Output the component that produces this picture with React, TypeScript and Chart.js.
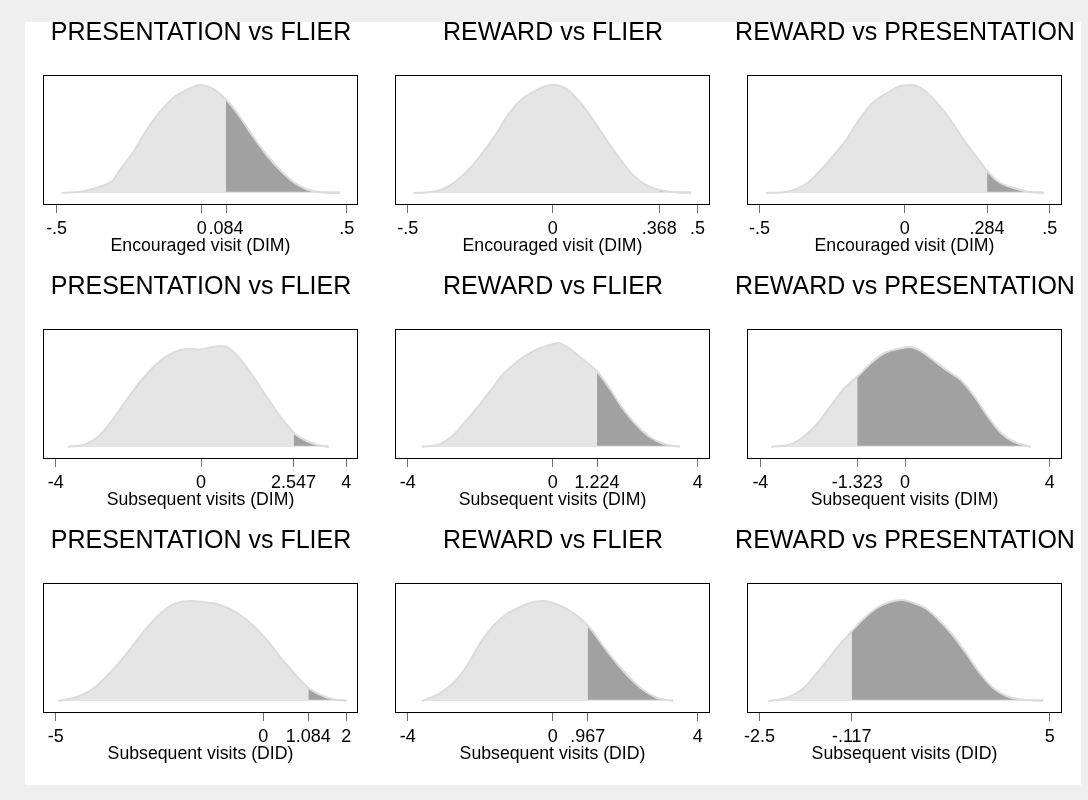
import React, { useEffect, useRef } from "react";
import { Chart, registerables } from "chart.js";

Chart.register(...registerables);

// ---------- panel texts ----------
const panelTitles = [
  "PRESENTATION vs FLIER", "REWARD vs FLIER", "REWARD vs PRESENTATION",
  "PRESENTATION vs FLIER", "REWARD vs FLIER", "REWARD vs PRESENTATION",
  "PRESENTATION vs FLIER", "REWARD vs FLIER", "REWARD vs PRESENTATION",
];
const axisTitles = [
  "Encouraged visit (DIM)", "Encouraged visit (DIM)", "Encouraged visit (DIM)",
  "Subsequent visits (DIM)", "Subsequent visits (DIM)", "Subsequent visits (DIM)",
  "Subsequent visits (DID)", "Subsequent visits (DID)", "Subsequent visits (DID)",
];

// observed statistic (shaded tail starts here)
const observed = [0.084, 0.368, 0.284, 2.547, 1.224, -1.323, 1.084, 0.967, -0.117];

// x-axis ticks
const tickValues = [
  [-0.5, 0, 0.084, 0.5], [-0.5, 0, 0.368, 0.5], [-0.5, 0, 0.284, 0.5],
  [-4, 0, 2.547, 4], [-4, 0, 1.224, 4], [-4, -1.323, 0, 4],
  [-5, 0, 1.084, 2], [-4, 0, 0.967, 4], [-2.5, -0.117, 5],
];
const tickLabels = [
  ["-.5", "0", ".084", ".5"], ["-.5", "0", ".368", ".5"], ["-.5", "0", ".284", ".5"],
  ["-4", "0", "2.547", "4"], ["-4", "0", "1.224", "4"], ["-4", "-1.323", "0", "4"],
  ["-5", "0", "1.084", "2"], ["-4", "0", ".967", "4"], ["-2.5", "-.117", "5"],
];
const xMin = [-0.547, -0.544, -0.543, -4.35, -4.35, -4.37, -5.31, -4.35, -2.825];
const xMax = [0.539, 0.543, 0.542, 4.32, 4.34, 4.34, 2.28, 4.34, 5.317];

// ---------- densities (relative height) ----------
const p1X = [-0.483, -0.408, -0.351, -0.305, -0.282, -0.236, -0.19, -0.144, -0.098, -0.052, -0.006, 0.04, 0.086, 0.132, 0.178, 0.224, 0.27, 0.316, 0.362, 0.408, 0.477];
const p1Y = [0, 0.017, 0.063, 0.13, 0.23, 0.41, 0.63, 0.81, 0.95, 1.03, 1.08, 1.04, 0.93, 0.76, 0.56, 0.38, 0.23, 0.11, 0.037, 0.007, 0];

const p2X = [-0.48, -0.399, -0.342, -0.285, -0.239, -0.193, -0.147, -0.101, -0.055, -0.021, 0.008, 0.048, 0.094, 0.14, 0.186, 0.232, 0.277, 0.323, 0.369, 0.415, 0.478];
const p2Y = [0, 0.02, 0.1, 0.25, 0.41, 0.6, 0.81, 0.95, 1.03, 1.07, 1.08, 1.04, 0.91, 0.73, 0.53, 0.34, 0.18, 0.08, 0.03, 0.01, 0];

const p3X = [-0.478, -0.404, -0.335, -0.289, -0.243, -0.197, -0.151, -0.106, -0.06, -0.014, 0.026, 0.066, 0.112, 0.158, 0.204, 0.25, 0.29, 0.33, 0.376, 0.422, 0.479];
const p3Y = [0, 0.013, 0.1, 0.23, 0.38, 0.55, 0.76, 0.91, 1.0, 1.07, 1.08, 1.03, 0.9, 0.73, 0.53, 0.35, 0.2, 0.1, 0.05, 0.013, 0];

const p4X = [-3.66, -3.15, -2.78, -2.42, -2.05, -1.68, -1.31, -0.94, -0.58, -0.3, -0.03, 0.25, 0.52, 0.71, 0.98, 1.35, 1.72, 2.09, 2.36, 2.59, 2.91, 3.19, 3.51];
const p4Y = [0, 0.03, 0.12, 0.28, 0.47, 0.65, 0.8, 0.91, 0.97, 0.98, 0.975, 0.995, 1.01, 1.0, 0.92, 0.75, 0.55, 0.35, 0.22, 0.13, 0.06, 0.023, 0];

const p5X = [-3.61, -3.1, -2.74, -2.37, -2.0, -1.64, -1.36, -1.09, -0.72, -0.35, -0.07, 0.15, 0.48, 0.75, 1.03, 1.26, 1.58, 1.94, 2.31, 2.68, 3.05, 3.51];
const p5Y = [0, 0.03, 0.12, 0.27, 0.43, 0.6, 0.73, 0.82, 0.92, 0.99, 1.02, 1.04, 0.98, 0.9, 0.82, 0.74, 0.58, 0.38, 0.22, 0.1, 0.033, 0];

const p6X = [-3.7, -3.14, -2.78, -2.41, -2.04, -1.67, -1.3, -0.94, -0.57, -0.2, 0.12, 0.44, 0.81, 1.18, 1.54, 1.91, 2.28, 2.65, 3.02, 3.48];
const p6Y = [0, 0.03, 0.11, 0.24, 0.42, 0.59, 0.71, 0.84, 0.94, 0.98, 1.0, 0.96, 0.86, 0.76, 0.67, 0.51, 0.31, 0.14, 0.05, 0];

const p7X = [-4.94, -4.42, -4.02, -3.7, -3.38, -3.06, -2.73, -2.41, -2.09, -1.77, -1.45, -1.13, -0.81, -0.49, -0.16, 0.16, 0.48, 0.8, 1.12, 1.44, 1.68, 2.0];
const p7Y = [0, 0.05, 0.15, 0.28, 0.43, 0.6, 0.77, 0.9, 0.98, 1.0, 0.99, 0.97, 0.92, 0.84, 0.72, 0.57, 0.4, 0.25, 0.12, 0.05, 0.017, 0];

const p8X = [-3.61, -3.1, -2.74, -2.37, -2.0, -1.64, -1.27, -0.9, -0.53, -0.26, 0.02, 0.39, 0.75, 1.03, 1.39, 1.76, 2.13, 2.5, 2.87, 3.32];
const p8Y = [0, 0.08, 0.18, 0.35, 0.58, 0.75, 0.87, 0.94, 0.99, 1.0, 0.98, 0.92, 0.83, 0.73, 0.55, 0.38, 0.23, 0.11, 0.033, 0];

const p9X = [-2.27, -1.79, -1.36, -0.93, -0.5, -0.09, 0.18, 0.53, 0.87, 1.17, 1.47, 1.82, 2.16, 2.51, 2.85, 3.19, 3.54, 3.88, 4.23, 4.83];
const p9Y = [0, 0.033, 0.13, 0.32, 0.53, 0.71, 0.82, 0.93, 0.99, 1.01, 0.98, 0.92, 0.8, 0.65, 0.47, 0.28, 0.13, 0.05, 0.017, 0];

const densX = [p1X, p2X, p3X, p4X, p5X, p6X, p7X, p8X, p9X];
const densY = [p1Y, p2Y, p3Y, p4Y, p5Y, p6Y, p7Y, p8Y, p9Y];

const FONT = "'Liberation Sans', Arial, Helvetica, sans-serif";
const CELL_W = 352;
const CELL_H = 254;

function tailPoints(xs: number[], ys: number[], t: number) {
  const out: { x: number; y: number }[] = [];
  for (let k = 0; k < xs.length; k++) {
    if (xs[k] >= t) {
      if (out.length === 0 && k > 0) {
        const f = (t - xs[k - 1]) / (xs[k] - xs[k - 1]);
        out.push({ x: t, y: ys[k - 1] + f * (ys[k] - ys[k - 1]) });
      }
      out.push({ x: xs[k], y: ys[k] });
    }
  }
  return out;
}

const boxPlugin = {
  id: "plotBox",
  afterDraw(chart: any) {
    const { ctx, chartArea } = chart;
    const l = Math.round(chartArea.left) + 0.5;
    const t = Math.round(chartArea.top) + 0.5;
    const r = Math.round(chartArea.right) - 0.5;
    const b = Math.round(chartArea.bottom) - 0.5;
    ctx.save();
    ctx.strokeStyle = "#000";
    ctx.lineWidth = 1;
    ctx.strokeRect(l, t, r - l, b - t);
    ctx.restore();
  },
};

function Panel({ idx }: { idx: number }) {
  const ref = useRef<HTMLCanvasElement | null>(null);
  useEffect(() => {
    if (!ref.current) return;
    const xs = densX[idx];
    const ys = densY[idx];
    const full = xs.map((x, k) => ({ x, y: ys[k] }));
    const tail = tailPoints(xs, ys, observed[idx]);
    const chart = new Chart(ref.current, {
      type: "line",
      data: {
        datasets: [
          {
            data: full,
            fill: "origin",
            backgroundColor: "#e5e5e5",
            borderWidth: 0,
            pointRadius: 0,
            cubicInterpolationMode: "monotone",
            order: 3,
          },
          {
            data: tail,
            fill: { value: 0.012 },
            backgroundColor: "#a1a1a1",
            borderWidth: 0,
            pointRadius: 0,
            cubicInterpolationMode: "monotone",
            order: 2,
          },
          {
            data: full,
            fill: false,
            borderColor: "#dcdcdc",
            borderWidth: 2,
            pointRadius: 0,
            cubicInterpolationMode: "monotone",
            order: 1,
          },
        ] as any,
      },
      options: {
        animation: false,
        responsive: false,
        events: [],
        layout: { padding: { top: 0, left: 0, right: 0, bottom: 19 } },
        plugins: {
          legend: { display: false },
          tooltip: { enabled: false },
          title: {
            display: true,
            text: panelTitles[idx],
            color: "#000",
            font: { family: FONT, size: 25, weight: "normal", lineHeight: 0.8 },
            padding: { top: 1, bottom: 32 },
          },
        },
        scales: {
          x: {
            type: "linear",
            min: xMin[idx],
            max: xMax[idx],
            afterBuildTicks: (s: any) => {
              s.ticks = tickValues[idx].map((v) => ({ value: v }));
            },
            afterFit: (s: any) => {
              s.height = 52;
            },
            ticks: {
              autoSkip: false,
              maxRotation: 0,
              minRotation: 0,
              padding: 5,
              color: "#000",
              font: { family: FONT, size: 18, lineHeight: 1.2 },
              callback: (v: any) => {
                const k = tickValues[idx].indexOf(Number(v));
                return k >= 0 ? tickLabels[idx][k] : "";
              },
            },
            grid: {
              display: true,
              drawOnChartArea: false,
              drawTicks: true,
              tickLength: 8,
              color: "#6e6e6e",
              lineWidth: 1,
            },
            border: { display: false },
            title: {
              display: true,
              text: axisTitles[idx],
              color: "#000",
              font: { family: FONT, size: 17.7, lineHeight: 1.2 },
              padding: { top: 0, bottom: 0 },
            },
          },
          y: {
            type: "linear",
            position: "left",
            min: -0.12,
            max: 1.18,
            ticks: { display: false },
            grid: { display: false },
            border: { display: false },
            afterFit: (s: any) => {
              s.width = 18;
            },
          },
          yRight: {
            type: "linear",
            position: "right",
            min: 0,
            max: 1,
            ticks: { display: false },
            grid: { display: false },
            border: { display: false },
            afterFit: (s: any) => {
              s.width = 19;
            },
          },
        },
      } as any,
      plugins: [boxPlugin],
    });
    return () => chart.destroy();
  }, [idx]);

  const col = idx % 3;
  const row = Math.floor(idx / 3);
  return (
    <canvas
      ref={ref}
      width={CELL_W}
      height={CELL_H}
      style={{
        position: "absolute",
        left: 25 + col * CELL_W,
        top: 22 + row * CELL_H,
        width: CELL_W,
        height: CELL_H,
        display: "block",
      }}
    />
  );
}

export default function App() {
  return (
    <div
      style={{
        position: "absolute",
        left: 0,
        top: 0,
        width: 1088,
        height: 800,
        background: "#efefef",
        overflow: "hidden",
      }}
    >
      <div
        style={{
          position: "absolute",
          left: 25,
          top: 22,
          width: 1056,
          height: 763,
          background: "#ffffff",
        }}
      />
      {panelTitles.map((_, i) => (
        <Panel key={i} idx={i} />
      ))}
    </div>
  );
}
